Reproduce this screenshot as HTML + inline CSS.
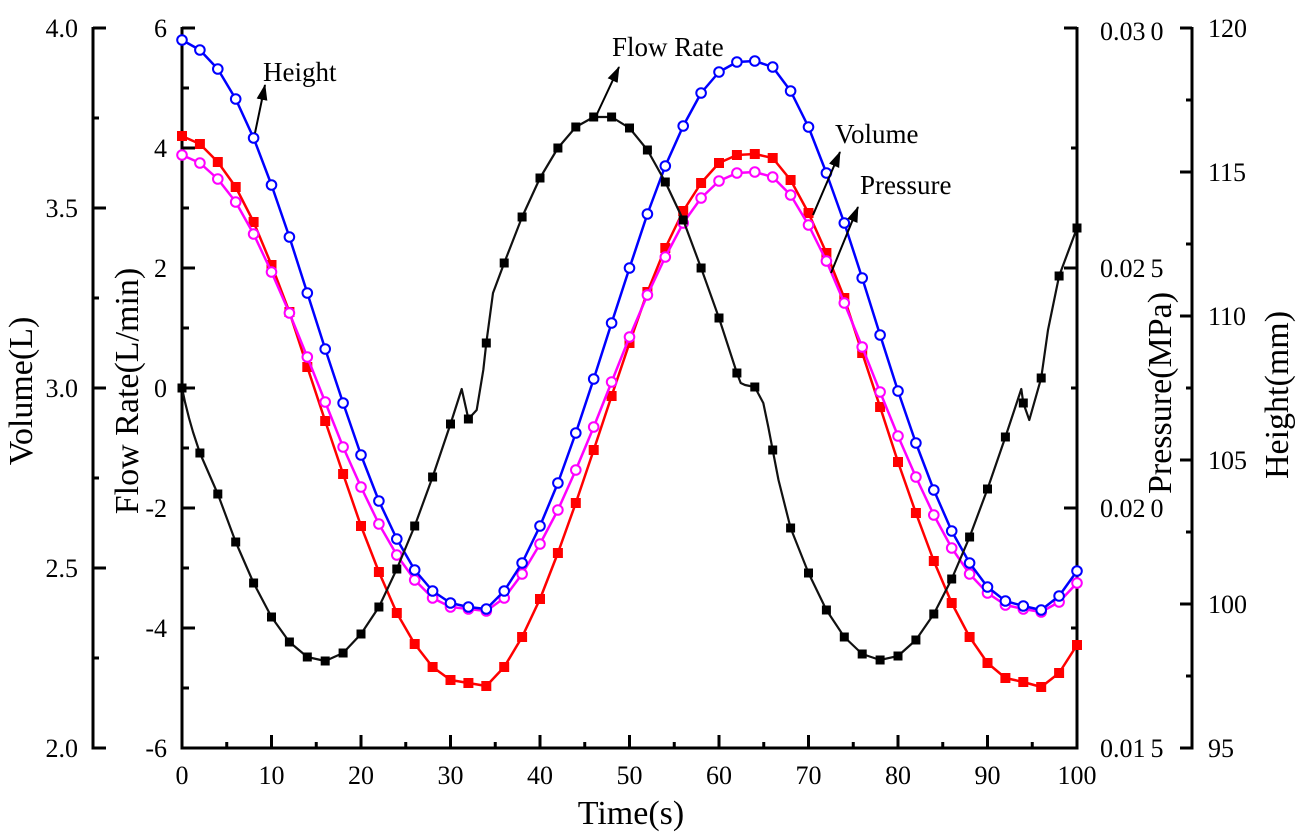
<!DOCTYPE html>
<html><head><meta charset="utf-8"><style>
html,body{margin:0;padding:0;background:#fff;}
svg{display:block;}
text{font-family:"Liberation Serif","Times New Roman",serif;fill:#000;}
</style></head><body>
<svg width="1298" height="837" viewBox="0 0 1298 837" xmlns="http://www.w3.org/2000/svg">
<defs>
<marker id="sqK" markerWidth="12" markerHeight="12" refX="6" refY="6" markerUnits="userSpaceOnUse"><rect x="1.5" y="1.5" width="9" height="9" fill="#000"/></marker>
<marker id="sqR" markerWidth="12" markerHeight="12" refX="6" refY="6" markerUnits="userSpaceOnUse"><rect x="1" y="1" width="10" height="10" fill="#ff0000"/></marker>
<marker id="cB" markerWidth="14" markerHeight="14" refX="7" refY="7" markerUnits="userSpaceOnUse"><circle cx="7" cy="7" r="4.8" fill="#fff" stroke="#0000ff" stroke-width="2"/></marker>
<marker id="cM" markerWidth="14" markerHeight="14" refX="7" refY="7" markerUnits="userSpaceOnUse"><circle cx="7" cy="7" r="4.8" fill="#fff" stroke="#ff00ff" stroke-width="2"/></marker>
<marker id="arr" markerWidth="16" markerHeight="12" refX="15" refY="6" orient="auto" markerUnits="userSpaceOnUse"><path d="M0,0.5 L16,6 L0,11.5 z" fill="#000"/></marker>
</defs>

<g stroke="#000" stroke-width="3" fill="none">
  <line x1="93" y1="27" x2="93" y2="749.5"/>
  <path d="M93 28H106 M93 208H106 M93 388H106 M93 568H106 M93 748H106 M93 118H99 M93 298H99 M93 478H99 M93 658H99"/>
  <line x1="182" y1="27" x2="182" y2="749.5"/>
  <path d="M182 28H195 M182 148H195 M182 268H195 M182 388H195 M182 508H195 M182 628H195 M182 88H189 M182 208H189 M182 328H189 M182 448H189 M182 568H189 M182 688H189"/>
  <line x1="180.5" y1="748" x2="1078.5" y2="748"/>
  <path d="M271.5 748V735 M361 748V735 M450.5 748V735 M540 748V735 M629.5 748V735 M719 748V735 M808.5 748V735 M898 748V735 M987.5 748V735
           M226.75 748V742 M316.25 748V742 M405.75 748V742 M495.25 748V742 M584.75 748V742 M674.25 748V742 M763.75 748V742 M853.25 748V742 M942.75 748V742 M1032.25 748V742"/>
  <line x1="1077" y1="27" x2="1077" y2="749.5"/>
  <path d="M1077 28H1064 M1077 268H1064 M1077 508H1064 M1077 148H1071 M1077 388H1071 M1077 628H1071"/>
  <line x1="1192" y1="27" x2="1192" y2="749.5"/>
  <path d="M1192 28H1180 M1192 172H1180 M1192 316H1180 M1192 460H1180 M1192 604H1180 M1192 748H1180 M1192 100H1186 M1192 244H1186 M1192 388H1186 M1192 532H1186 M1192 676H1186"/>
</g>

<g font-size="26" text-anchor="end">
  <text x="78" y="37">4.0</text>
  <text x="78" y="217">3.5</text>
  <text x="78" y="397">3.0</text>
  <text x="78" y="577">2.5</text>
  <text x="78" y="757">2.0</text>
  <text x="167" y="37">6</text>
  <text x="167" y="157">4</text>
  <text x="167" y="277">2</text>
  <text x="167" y="397">0</text>
  <text x="167" y="517">-2</text>
  <text x="167" y="637">-4</text>
  <text x="167" y="757">-6</text>
</g>
<g font-size="26" text-anchor="middle">
  <text x="182" y="784">0</text>
  <text x="271.5" y="784">10</text>
  <text x="361" y="784">20</text>
  <text x="450.5" y="784">30</text>
  <text x="540" y="784">40</text>
  <text x="629.5" y="784">50</text>
  <text x="719" y="784">60</text>
  <text x="808.5" y="784">70</text>
  <text x="898" y="784">80</text>
  <text x="987.5" y="784">90</text>
  <text x="1077" y="784">100</text>
</g>
<g font-size="26">
  <text x="1100" y="40">0.03<tspan dx="5">0</tspan></text>
  <text x="1100" y="277">0.02<tspan dx="5">5</tspan></text>
  <text x="1100" y="517">0.02<tspan dx="5">0</tspan></text>
  <text x="1100" y="757">0.01<tspan dx="5">5</tspan></text>
  <text x="1208" y="37">120</text>
  <text x="1208" y="181">115</text>
  <text x="1208" y="325">110</text>
  <text x="1208" y="469">105</text>
  <text x="1208" y="613">100</text>
  <text x="1208" y="757">95</text>
</g>

<g font-size="34" text-anchor="middle">
  <text transform="translate(32,391) rotate(-90)">Volume(L)</text>
  <text transform="translate(138,391) rotate(-90)">Flow Rate(L/min)</text>
  <text transform="translate(1171,393) rotate(-90)">Pressure(MPa)</text>
  <text transform="translate(1288,395) rotate(-90)">Height(mm)</text>
  <text x="631" y="824">Time(s)</text>
</g>

<polyline fill="none" stroke="#ff0000" stroke-width="2.5" stroke-linejoin="round"
 marker-start="url(#sqR)" marker-mid="url(#sqR)" marker-end="url(#sqR)"
 points="182,136 199.9,144 217.8,162 235.7,187 253.6,222 271.5,265 289.4,312 307.3,367 325.2,421 343.1,474 361,526 378.9,572 396.8,613 414.7,644 432.6,667 450.5,680 468.4,683 486.3,686 504.2,667 522.1,637 540,599 557.9,553 575.8,503 593.7,450 611.6,396 629.5,343 647.4,292 665.3,248 683.2,211 701.1,183 719,163 736.9,155 754.8,154 772.7,158 790.6,180 808.5,213 826.4,253 844.3,298 862.2,353 880.1,407 898,462 915.9,513 933.8,561 951.7,603 969.6,637 987.5,663 1005.4,678 1023.3,682 1041.2,687 1059.1,673 1077,645"/>

<polyline fill="none" stroke="#ff00ff" stroke-width="2.5" stroke-linejoin="round"
 marker-start="url(#cM)" marker-mid="url(#cM)" marker-end="url(#cM)"
 points="182,155 199.9,163 217.8,179 235.7,202 253.6,234 271.5,272 289.4,313 307.3,357 325.2,402 343.1,447 361,487 378.9,524 396.8,555 414.7,580 432.6,598 450.5,607 468.4,609 486.3,611 504.2,598 522.1,574 540,544 557.9,510 575.8,470 593.7,427 611.6,382 629.5,337 647.4,295 665.3,257 683.2,223 701.1,198 719,181 736.9,173 754.8,172 772.7,177 790.6,195 808.5,225 826.4,261 844.3,303 862.2,347 880.1,392 898,436 915.9,477 933.8,515 951.7,548 969.6,574 987.5,593 1005.4,605 1023.3,609 1041.2,612 1059.1,602 1077,583"/>

<polyline fill="none" stroke="#0000ff" stroke-width="2.5" stroke-linejoin="round"
 marker-start="url(#cB)" marker-mid="url(#cB)" marker-end="url(#cB)"
 points="182,40 199.9,50 217.8,69 235.7,99 253.6,138 271.5,185 289.4,237 307.3,293 325.2,349 343.1,403 361,455 378.9,501 396.8,539 414.7,570 432.6,591 450.5,603 468.4,607 486.3,609 504.2,591 522.1,563 540,526 557.9,483 575.8,433 593.7,379 611.6,323 629.5,268 647.4,214 665.3,166 683.2,126 701.1,93 719,72 736.9,62 754.8,61 772.7,67 790.6,91 808.5,127 826.4,173 844.3,223 862.2,278 880.1,335 898,391 915.9,443 933.8,490 951.7,531 969.6,563 987.5,587 1005.4,601 1023.3,606 1041.2,610 1059.1,596 1077,571"/>

<polyline fill="none" stroke="#111" stroke-width="2.2" stroke-linejoin="round"
 points="182,388 185,402 189,418 193,432 199.9,453 217.8,494 235.7,542 253.6,583 271.5,617 289.4,642 307.3,657 325.2,661 343.1,653 361,634 378.9,607 396.8,569 414.7,526 432.6,477 450.5,424 461.7,389 468.4,419 476.7,410 483.3,370 486.3,343 493,293 504.2,263 522.1,217 540,178 557.9,148 575.8,127 593.7,117 611.6,117 629.5,128 647.4,150 665.3,182 683.2,220 701.1,268 719,318 736.9,373 740.7,383 745,385 754.8,387 763.3,403 768.3,427 772.7,450 778.5,480 790.6,528 808.5,573 826.4,610 844.3,637 862.2,654 880.1,660 898,656 915.9,640 933.8,614 951.7,579 969.6,537 987.5,489 1005.4,437 1021.3,389 1023.3,403 1029.3,420 1041.2,378 1048,330 1059.1,276 1077,228"/>
<polyline fill="none" stroke="none"
 marker-start="url(#sqK)" marker-mid="url(#sqK)" marker-end="url(#sqK)"
 points="182,388 199.9,453 217.8,494 235.7,542 253.6,583 271.5,617 289.4,642 307.3,657 325.2,661 343.1,653 361,634 378.9,607 396.8,569 414.7,526 432.6,477 450.5,424 468.4,419 486.3,343 504.2,263 522.1,217 540,178 557.9,148 575.8,127 593.7,117 611.6,117 629.5,128 647.4,150 665.3,182 683.2,220 701.1,268 719,318 736.9,373 754.8,387 772.7,450 790.6,528 808.5,573 826.4,610 844.3,637 862.2,654 880.1,660 898,656 915.9,640 933.8,614 951.7,579 969.6,537 987.5,489 1005.4,437 1023.3,403 1041.2,378 1059.1,276 1077,228"/>

<g stroke="#000" stroke-width="2" fill="none">
  <line x1="255" y1="133" x2="265" y2="85" marker-end="url(#arr)"/>
  <line x1="597" y1="114" x2="619" y2="67" marker-end="url(#arr)"/>
  <line x1="813" y1="215" x2="840" y2="152" marker-end="url(#arr)"/>
  <line x1="831" y1="273" x2="858" y2="207" marker-end="url(#arr)"/>
</g>
<g font-size="27">
  <text x="263" y="81">Height</text>
  <text x="612" y="56">Flow Rate</text>
  <text x="835" y="143">Volume</text>
  <text x="860" y="194">Pressure</text>
</g>
</svg>
</body></html>
